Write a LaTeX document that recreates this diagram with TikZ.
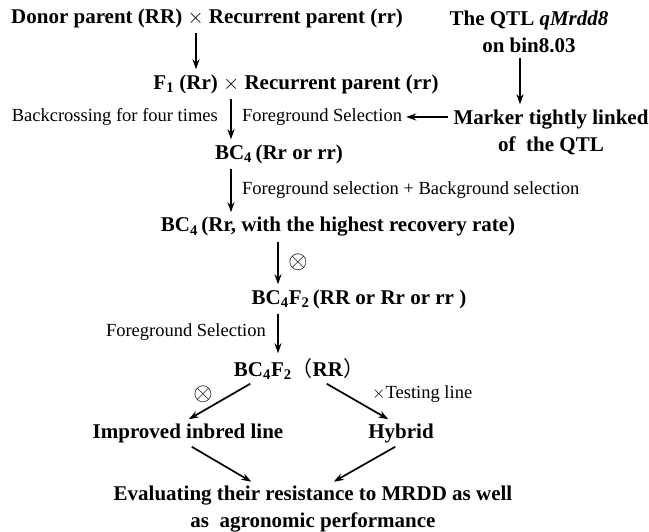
\documentclass[tikz,border=0pt]{standalone}
\usepackage{fontspec}
\setmainfont{Liberation Serif}
\newfontfamily\cjkfont{Noto Sans CJK SC}
\usetikzlibrary{arrows.meta, positioning}

\begin{document}
\begin{tikzpicture}[x=1pt, y=-1pt,
  tbox/.style={inner sep=3pt, align=center, font=\fontsize{21}{27}\selectfont\bfseries},
  lbl/.style={inner sep=2pt, font=\fontsize{18.5}{22}\selectfont},
  sym/.style={inner sep=1pt, font=\fontsize{23}{26}\selectfont},
  arr/.style={-{Stealth[length=10pt, width=7pt]}, line width=1.7pt, shorten >=2pt, shorten <=2pt}
]
  \useasboundingbox (0,0) rectangle (649,532);

  % main column
  \node[tbox, anchor=west] (donor) at (8, 18) {Donor parent (RR) {\mdseries$\times$} Recurrent parent (rr)};
  \node[tbox] (qtl) at (529, 32) {The QTL \textit{qMrdd8}\\on bin8.03};
  \node[tbox] (f1) at (296, 84) {F\textsubscript{1} (Rr) {\mdseries$\times$} Recurrent parent (rr)};
  \node[lbl, anchor=east] (backx) at (220, 117) {Backcrossing for four times};
  \node[lbl, anchor=west] (fgsel) at (240, 117) {Foreground Selection};
  \node[tbox] (marker) at (551, 132) {Marker tightly linked\\of\ \ the QTL};
  \node[tbox] (bcfour) at (279, 154) {BC\textsubscript{4}\,(Rr or rr)};
  \node[lbl, anchor=west] (fgbg) at (240, 190) {Foreground selection + Background selection};
  \node[tbox] (bcrec) at (338, 227) {BC\textsubscript{4}\,(Rr, with the highest recovery rate)};
  \node[sym] (selfa) at (298, 262) {$\otimes$};
  \node[tbox] (bcftwo) at (359, 299) {BC\textsubscript{4}F\textsubscript{2}\,(RR or Rr or rr )};
  \node[lbl, anchor=east] (fgsel2) at (268, 332) {Foreground Selection};
  \node[tbox] (bcsel) at (299, 369) {BC\textsubscript{4}F\textsubscript{2}{\cjkfont\mdseries （}RR{\cjkfont\mdseries ）}};

  % two branches
  \node[sym] (selfb) at (203, 394) {$\otimes$};
  \node[lbl, anchor=west] (testx) at (370, 394) {$\times$Testing line};
  \node[tbox] (inbred) at (188, 433) {Improved\ inbred line};
  \node[tbox] (hybrid) at (401, 433) {Hybrid};
  \node[tbox] (evalr) at (313, 509) {Evaluating their resistance to MRDD as well\\as\ \ agronomic performance};

  \draw[arr] (donor.south -| 196,0) -- (f1.north -| 196,0);
  \draw[arr] (qtl.south -| 520,0) -- (marker.north -| 520,0);
  \draw[arr] (marker.west |- fgsel.east) -- (fgsel.east);
  \draw[arr] (f1.south -| 231,0) -- (bcfour.north -| 231,0);
  \draw[arr] (bcfour.south -| 231,0) -- (bcrec.north -| 231,0);
  \draw[arr] (bcrec.south -| 278,0) -- (bcftwo.north -| 278,0);
  \draw[arr] (bcftwo.south -| 278,0) -- (bcsel.north -| 278,0);
  \draw[arr] (bcsel.south -| 252,0) -- (inbred.north -| 187,0);
  \draw[arr] (bcsel.south -| 325,0) -- (hybrid.north -| 390,0);
  \draw[arr] (inbred.south -| 190,0) -- (evalr.north -| 253,0);
  \draw[arr] (hybrid.south -| 397,0) -- (evalr.north -| 332,0);
\end{tikzpicture}
\end{document}
